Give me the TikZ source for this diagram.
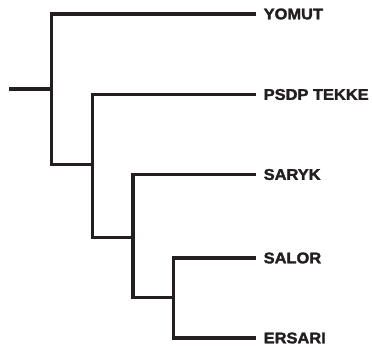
\documentclass[tikz,border=0pt]{standalone}
\usepackage{fontspec}
\newfontfamily\heavy[FakeBold=2]{Liberation Sans Bold}
\definecolor{ink}{HTML}{231F20}
\tikzset{
  branch/.style={line width=3.4pt, draw=ink, line join=miter, line cap=butt},
  leaf/.style={anchor=west, inner sep=0pt, text=ink, font=\heavy\fontsize{15.5}{15.5}\selectfont}
}
\begin{document}
\begin{tikzpicture}[x=1pt,y=-1pt]
\useasboundingbox (0,0) rectangle (372,347);
% leaf labels
\node[leaf] (yomut)  at (263.5,14)   {\scalebox{1.06}[1]{YOMUT}};
\node[leaf] (psdp)   at (263.5,94.5) {\scalebox{1.06}[1]{PSDP TEKKE}};
\node[leaf] (saryk)  at (263.5,174.5){\scalebox{1.06}[1]{SARYK}};
\node[leaf] (salor)  at (263.5,258)  {\scalebox{1.06}[1]{SALOR}};
\node[leaf] (ersari) at (263.5,338)  {\scalebox{1.06}[1]{ERSARI}};
% leaf line ends
\coordinate (eyomut)  at (256,14);
\coordinate (epsdp)   at (256,94.5);
\coordinate (esaryk)  at (256,174.5);
\coordinate (esalor)  at (256,258);
\coordinate (eersari) at (256,338);
% junctions
\coordinate (root) at (9,89);
\coordinate (r1)   at (51.5,89);
\coordinate (t1)   at (51.5,14);
\coordinate (b1)   at (51.5,164.5);
\coordinate (t2)   at (92.7,94.5);
\coordinate (m2)   at (92.7,164.5);
\coordinate (b2)   at (92.7,237.3);
\coordinate (t3)   at (133,174.5);
\coordinate (m3)   at (133,237.3);
\coordinate (b3)   at (133,297.7);
\coordinate (t4)   at (173.3,258);
\coordinate (m4)   at (173.3,297.7);
\coordinate (b4)   at (173.3,338);
% branches
\draw[branch] (root) -- (r1);
\draw[branch] (eyomut) -- (t1) -- (b1) -- (m2);
\draw[branch] (epsdp) -- (t2) -- (b2) -- (m3);
\draw[branch] (esaryk) -- (t3) -- (b3) -- (m4);
\draw[branch] (esalor) -- (t4) -- (b4) -- (eersari);
\end{tikzpicture}
\end{document}
